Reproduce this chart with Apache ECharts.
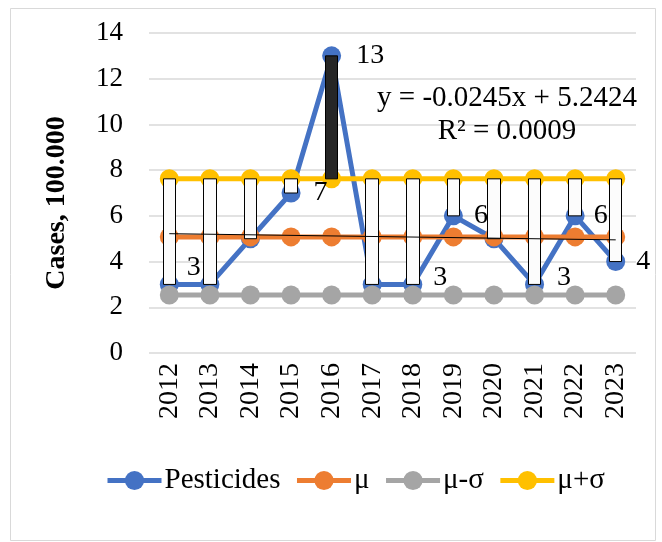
<!DOCTYPE html>
<html>
<head>
<meta charset="utf-8">
<script src="https://cdn.jsdelivr.net/npm/echarts@6/dist/echarts.min.js"></script>
<style>
html,body{margin:0;padding:0;background:#fff;}
#chart{width:662px;height:542px;}
</style>
</head>
<body>
<div id="chart"></div>
<script>
// ---- data ----
var years = ['2012','2013','2014','2015','2016','2017','2018','2019','2020','2021','2022','2023'];
var pesticides = [3, 3, 5, 7, 13, 3, 3, 6, 5, 3, 6, 4];
var mu = [5.08, 5.08, 5.08, 5.08, 5.08, 5.08, 5.08, 5.08, 5.08, 5.08, 5.08, 5.08];
var muMinusSigma = [2.54, 2.54, 2.54, 2.54, 2.54, 2.54, 2.54, 2.54, 2.54, 2.54, 2.54, 2.54];
var muPlusSigma = [7.62, 7.62, 7.62, 7.62, 7.62, 7.62, 7.62, 7.62, 7.62, 7.62, 7.62, 7.62];
var trendStart = 5.22;   // trend value at 2012
var trendEnd = 4.95;     // trend value at 2023
var trendEquation = 'y = -0.0245x + 5.2424';
var trendR2 = 'R\u00B2 = 0.0009';
var yTicks = { min: 0, max: 14, interval: 2 };

// which points carry a data label, and how labels are nudged (style only)
var labelOffsets = { 0: [-3, -17], 3: [2, 0], 4: [4, 0], 6: [0, -7], 7: [0, 0], 9: [2, -7], 10: [-2, 0], 11: [0, 0] };

var SERIF = 'Liberation Serif';

var labelData = pesticides.map(function (v, i) {
  var item = { value: v };
  if (labelOffsets[i]) {
    item.label = { show: true, position: 'right', distance: 11, offset: labelOffsets[i] };
  }
  return item;
});

var upDown = pesticides.map(function (v, i) {
  var hi = muPlusSigma[i];
  return [v, hi, Math.min(v, hi), Math.max(v, hi)];
});

function lineSeries(name, data, color) {
  return {
    name: name,
    type: 'line',
    data: data,
    symbol: 'circle',
    symbolSize: 19,
    lineStyle: { color: color, width: 5 },
    itemStyle: { color: color },
    emphasis: { disabled: true },
    z: 2,
    animation: false
  };
}

var chart = echarts.init(document.getElementById('chart'), null, { renderer: 'canvas' });
chart.setOption({
  animation: false,
  backgroundColor: '#fff',
  textStyle: { fontFamily: SERIF },
  grid: { left: 149, right: 26, top: 33, bottom: 189, containLabel: false },
  legend: {
    data: ['Pesticides', '\u03BC', '\u03BC-\u03C3', '\u03BC+\u03C3'],
    left: 100,
    top: 461,
    itemWidth: 54,
    itemHeight: 24,
    itemGap: 14,
    lineStyle: { width: 5 },
    textStyle: { fontFamily: SERIF, fontSize: 29, color: '#000', padding: [0, 0, 0, -2] }
  },
  xAxis: {
    type: 'category',
    data: years,
    boundaryGap: true,
    axisLine: { show: false },
    axisTick: { show: false },
    axisLabel: { rotate: 90, fontFamily: SERIF, fontSize: 28, color: '#000', margin: 10 }
  },
  yAxis: {
    type: 'value',
    min: yTicks.min,
    max: yTicks.max,
    interval: yTicks.interval,
    axisLine: { show: false },
    axisTick: { show: false },
    splitLine: { lineStyle: { color: '#d9d9d9', width: 1.5 } },
    axisLabel: { fontFamily: SERIF, fontSize: 27, color: '#000', margin: 26 }
  },
  graphic: [
    { type: 'rect', shape: { x: 10.5, y: 8.5, width: 645, height: 532 }, style: { fill: 'none', stroke: '#d9d9d9', lineWidth: 1 }, z: -10 },
    { type: 'text', x: 57, y: 203, rotation: Math.PI / 2,
      style: { text: 'Cases, 100.000', fontFamily: SERIF, fontWeight: 'bold', fontSize: 28, fill: '#000', align: 'center', verticalAlign: 'middle' } },
    { type: 'text', x: 507, y: 98,
      style: { text: trendEquation, fontFamily: SERIF, fontSize: 29, fill: '#000', align: 'center', verticalAlign: 'middle' }, z: 100 },
    { type: 'text', x: 507, y: 131,
      style: { text: trendR2, fontFamily: SERIF, fontSize: 29, fill: '#000', align: 'center', verticalAlign: 'middle' }, z: 100 }
  ],
  series: [
    lineSeries('Pesticides', pesticides, '#4472C4'),
    lineSeries('\u03BC', mu, '#ED7D31'),
    lineSeries('\u03BC-\u03C3', muMinusSigma, '#A5A5A5'),
    lineSeries('\u03BC+\u03C3', muPlusSigma, '#FFC000'),
    {
      name: 'updown',
      type: 'candlestick',
      data: upDown,
      barWidth: 13,
      itemStyle: { color: '#fcfcfc', color0: '#262626', borderColor: '#000', borderColor0: '#000', borderWidth: 1 },
      emphasis: { disabled: true },
      z: 3,
      animation: false
    },
    {
      name: 'trend',
      type: 'line',
      data: [[years[0], trendStart], [years[years.length - 1], trendEnd]],
      symbol: 'none',
      lineStyle: { color: '#000', width: 1 },
      emphasis: { disabled: true },
      z: 4,
      animation: false
    },
    {
      name: 'pestLabels',
      type: 'line',
      data: labelData,
      symbol: 'circle',
      symbolSize: 19,
      lineStyle: { color: 'rgba(0,0,0,0)', width: 0 },
      itemStyle: { color: 'rgba(0,0,0,0)', borderWidth: 0 },
      label: { show: false, color: '#000', fontFamily: SERIF, fontSize: 28 },
      emphasis: { disabled: true },
      z: 10,
      animation: false
    }
  ]
});
</script>
</body>
</html>
